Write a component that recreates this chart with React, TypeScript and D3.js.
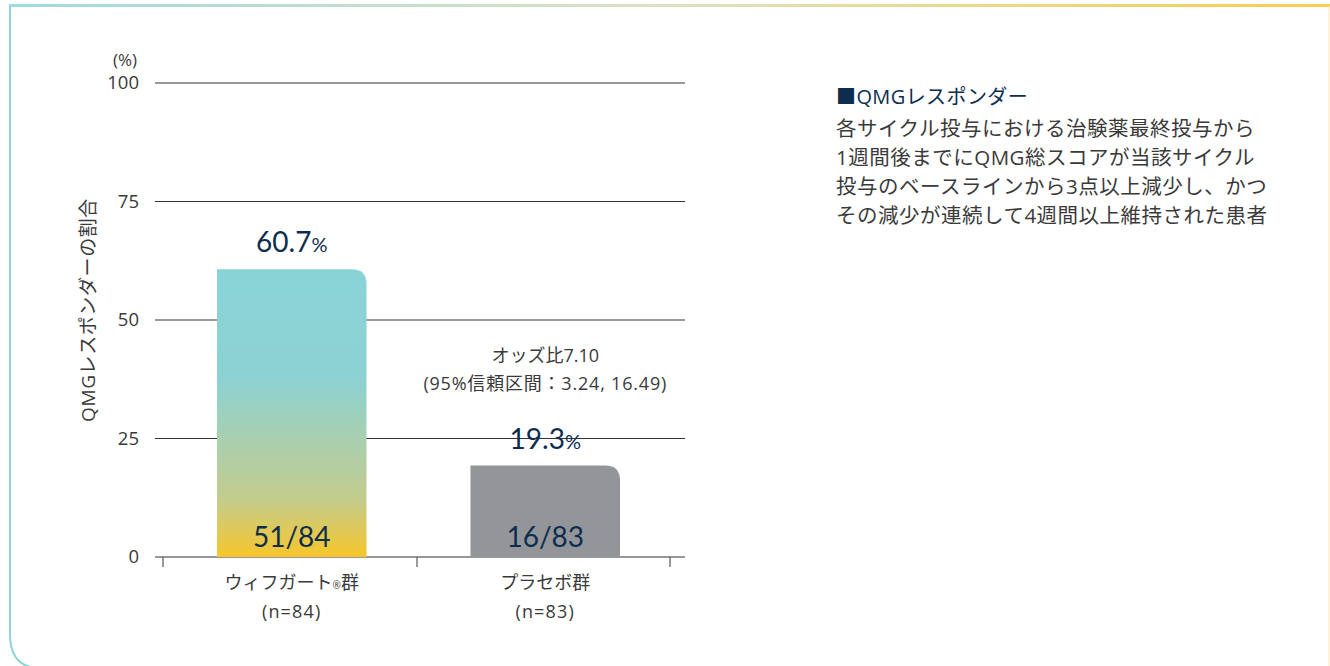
import React from "react";
import * as d3 from "d3";

const categories = ["ウィフガート®群", "プラセボ群"];
const nLabels = ["(n=84)", "(n=83)"];
const values = [60.7, 19.3];
const fractions = ["51/84", "16/83"];
const yTicks = [0, 25, 50, 75, 100];
const oddsLines = ["オッズ比7.10", "(95%信頼区間：3.24, 16.49)"];
const noteTitle = "■QMGレスポンダー";
const noteLines = [
  "各サイクル投与における治験薬最終投与から",
  "1週間後までにQMG総スコアが当該サイクル",
  "投与のベースラインから3点以上減少し、かつ",
  "その減少が連続して4週間以上維持された患者",
];

const W = 1330;
const H = 666;
const JP = "'Open Sans', 'Noto Sans CJK JP', sans-serif";
const NUM = "Lato, 'Open Sans', sans-serif";
const NAVY = "#0d2d4f";
const GREY_TXT = "#3a3a3a";

export default function App() {
  const y = d3.scaleLinear().domain([0, 100]).range([557, 83]);
  const x = d3.scaleBand().domain(categories).range([165, 672]).paddingInner(0.41).paddingOuter(0.205);
  const bw = x.bandwidth();
  const r = 15;

  const barPath = (cx0: number, top: number, bottom: number, w: number) => {
    const x1 = cx0 + w;
    return `M${cx0},${bottom}L${cx0},${top}L${x1 - r},${top}Q${x1},${top} ${x1},${top + r}L${x1},${bottom}Z`;
  };

  const boundaries = [163, 417, 670];

  return (
    <div style={{ position: "absolute", left: 0, top: 0 }}>
      <svg width={W} height={H} viewBox={`0 0 ${W} ${H}`} style={{ display: "block" }}>
        <defs>
          <linearGradient id="frameGrad" x1="0" x2="1" y1="0" y2="0">
            <stop offset="0" stopColor="#8fd4d8" />
            <stop offset="0.5" stopColor="#d8dcb6" />
            <stop offset="1" stopColor="#f7c52e" />
          </linearGradient>
          <linearGradient id="barGrad" x1="0" x2="0" y1="0" y2="1">
            <stop offset="0" stopColor="#89d3d7" />
            <stop offset="0.38" stopColor="#8dd2d2" />
            <stop offset="0.8" stopColor="#c4cc8e" />
            <stop offset="1" stopColor="#f6c62a" />
          </linearGradient>
        </defs>
        <rect x={0} y={0} width={W} height={H} fill="#fff" />
        {/* frame */}
        <rect x={9} y={4} width={W - 9} height={3} fill="url(#frameGrad)" opacity={0.85} />
        <path d={`M10,6L10,${H - 32}Q10,${H + 2} 40,${H + 2}`} fill="none" stroke="#8fd4d8" strokeWidth={2} />
        <line x1={W - 1} y1={6} x2={W - 1} y2={H} stroke="#fbe9b0" strokeWidth={1} />

        {/* grid */}
        {yTicks.map((t) => (
          <g key={t}>
            <line x1={155} x2={685} y1={y(t)} y2={y(t)} stroke="#333" strokeWidth={1.2} />
            <text x={139} y={y(t)} dy="0.35em" textAnchor="end" fontFamily={JP} fontSize={18.5} fill={GREY_TXT}>
              {t}
            </text>
          </g>
        ))}
        <text x={125} y={60} dy="0.35em" textAnchor="middle" fontFamily={JP} fontSize={17} fill={GREY_TXT}>
          (%)
        </text>
        {boundaries.map((b) => (
          <line key={b} x1={b} x2={b} y1={y(0)} y2={y(0) + 10} stroke="#555" strokeWidth={1.2} />
        ))}
        <text
          transform={`translate(88,${310}) rotate(-90)`}
          textAnchor="middle"
          dy="0.35em"
          fontFamily={JP}
          fontSize={19}
          letterSpacing={0.6}
          fill={GREY_TXT}
        >
          QMGレスポンダーの割合
        </text>

        {/* bars */}
        {categories.map((c, i) => {
          const bx = x(c)!;
          return (
            <path
              key={c}
              d={barPath(bx, y(values[i]), y(0), bw)}
              fill={i === 0 ? "url(#barGrad)" : "#939598"}
            />
          );
        })}

        {/* value labels */}
        {categories.map((c, i) => {
          const cx = x(c)! + bw / 2;
          return (
            <g key={c}>
              <text x={cx} y={y(values[i]) - 17} textAnchor="middle" fontFamily={NUM} fontSize={28} fill={NAVY}>
                {values[i].toFixed(1)}
                <tspan fontSize={20}>%</tspan>
              </text>
              <text x={cx} y={y(0) - 10} textAnchor="middle" fontFamily={NUM} fontSize={28} fill={NAVY}>
                {fractions[i]}
              </text>
              <text x={cx} y={583} dy="0.35em" textAnchor="middle" fontFamily={JP} fontSize={18} fill={GREY_TXT}>
                {i === 0 ? (
                  <>
                    ウィフガート<tspan fontSize={10}>®</tspan>群
                  </>
                ) : (
                  c
                )}
              </text>
              <text x={cx} y={612} dy="0.35em" textAnchor="middle" fontFamily={JP} fontSize={18} letterSpacing={1.2} fill={GREY_TXT}>
                {nLabels[i]}
              </text>
            </g>
          );
        })}

        {/* odds annotation */}
        {oddsLines.map((l, i) => (
          <text
            key={l}
            x={x(categories[1])! + bw / 2}
            y={356 + i * 28}
            dy="0.35em"
            textAnchor="middle"
            fontFamily={JP}
            fontSize={18}
            letterSpacing={i === 1 ? 0.8 : 0}
            fill={GREY_TXT}
          >
            {l}
          </text>
        ))}

        {/* note */}
        <text x={836} y={97} dy="0.35em" fontFamily={JP} fontSize={20} letterSpacing={0.4} fill={NAVY}>
          {noteTitle}
        </text>
        {noteLines.map((l, i) => (
          <text key={l} x={836} y={129 + i * 29} dy="0.35em" fontFamily={JP} fontSize={20.5} letterSpacing={0.5} fill={GREY_TXT}>
            {l}
          </text>
        ))}
      </svg>
    </div>
  );
}
